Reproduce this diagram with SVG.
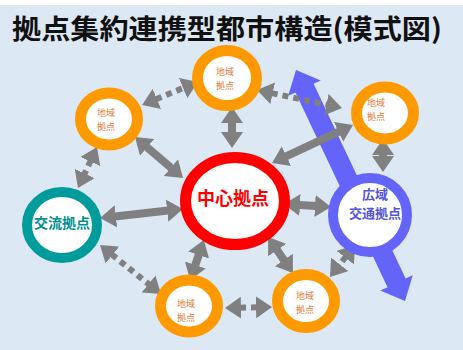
<svg xmlns="http://www.w3.org/2000/svg" width="463" height="350" viewBox="0 0 463 350">
<defs>
<style>
.bg{fill:#dde8f5}
.title{font-family:"Noto Sans CJK JP","Noto Sans CJK SC",sans-serif;font-weight:bold;font-size:27px;fill:#111}
.ring-o{fill:#fff;stroke:#ff9900;stroke-width:11}
.lbl-o{font-family:"Noto Sans CJK JP",sans-serif;font-size:9px;fill:#e07a35;text-anchor:middle}
.solid{stroke:#808080;stroke-width:8;fill:none;marker-start:url(#hd);marker-end:url(#hd)}
.dot{stroke:#808080;stroke-width:6;fill:none;stroke-dasharray:6 5;marker-start:url(#hd);marker-end:url(#hd)}
</style>
<marker id="hd" markerUnits="userSpaceOnUse" viewBox="0 -11 16 22" refX="1" refY="0" markerWidth="16" markerHeight="22" orient="auto-start-reverse">
<path d="M0,-11 L16,0 L0,11 Z" fill="#808080"/>
</marker>
</defs>
<rect class="bg" x="0" y="0" width="463" height="350"/>
<rect x="0" y="0" width="463" height="5" fill="#fff"/>
<text class="title" x="12" y="39" textLength="430" lengthAdjust="spacingAndGlyphs">拠点集約連携型都市構造(模式図)</text>

<g id="wide-area-corridor">
<polygon points="296,70 288.2,95.8 295.5,92.4 387.5,287.2 380.2,290.6 405,301 412.8,275.2 405.6,278.6 313.6,83.8 320.8,80.4" fill="#6464fa"/>
</g>

<g id="connectors">
<line class="dot" x1="156" y1="99.3" x2="184" y2="87.7"/>
<line class="dot" x1="90.7" y1="160.6" x2="84.3" y2="174.4"/>
<line class="solid" x1="146.4" y1="146.7" x2="171.6" y2="168.3"/>
<line class="solid" x1="232" y1="122" x2="232" y2="133"/>
<line class="dot" x1="271.7" y1="93.1" x2="327.3" y2="104.9"/>
<line class="solid" x1="339.4" y1="131.4" x2="285.6" y2="156.6"/>
<line class="solid" x1="383" y1="154" x2="383" y2="157"/>
<line class="solid" x1="299" y1="205" x2="316" y2="206"/>
<line class="solid" x1="114.9" y1="216.4" x2="168.1" y2="210.6"/>
<line class="dot" x1="111.7" y1="254.4" x2="149.3" y2="284.6"/>
<line class="solid" x1="199" y1="254.1" x2="195" y2="265.9"/>
<line class="solid" x1="276.6" y1="249.3" x2="284.4" y2="260.7"/>
<line class="dot" x1="240" y1="307.7" x2="257" y2="307.3"/>
<line class="dot" x1="345.8" y1="256.8" x2="339.2" y2="265.2"/>
</g>

<g id="node-top">
<ellipse class="ring-o" cx="227" cy="78" rx="29.5" ry="27.5"/>
<text class="lbl-o" x="225" y="75">地域</text>
<text class="lbl-o" x="225" y="88.5">拠点</text>
</g>
<g id="node-left">
<ellipse class="ring-o" cx="109" cy="119" rx="28.5" ry="26"/>
<text class="lbl-o" x="106" y="116">地域</text>
<text class="lbl-o" x="106" y="129.5">拠点</text>
</g>
<g id="node-topright">
<ellipse class="ring-o" cx="385" cy="113" rx="28.5" ry="26"/>
<text class="lbl-o" x="376" y="106">地域</text>
<text class="lbl-o" x="376" y="119.5">拠点</text>
</g>
<g id="node-bottomleft">
<ellipse class="ring-o" cx="189" cy="306" rx="28.5" ry="26"/>
<text class="lbl-o" x="186" y="307">地域</text>
<text class="lbl-o" x="186" y="320.5">拠点</text>
</g>
<g id="node-bottomright">
<ellipse class="ring-o" cx="306" cy="301" rx="28.5" ry="26.5"/>
<text class="lbl-o" x="305" y="299">地域</text>
<text class="lbl-o" x="305" y="312.5">拠点</text>
</g>
<g id="node-center">
<ellipse cx="235" cy="201" rx="49.5" ry="43.5" fill="#fff" stroke="#ff0000" stroke-width="11"/>
<text x="233" y="205" text-anchor="middle" font-family="Noto Sans CJK JP, sans-serif" font-weight="bold" font-size="18" fill="#ff0000">中心拠点</text>
</g>
<g id="node-exchange">
<ellipse cx="62" cy="225" rx="35" ry="33" fill="#fff" stroke="#009b9b" stroke-width="10"/>
<text x="62" y="228" text-anchor="middle" font-family="Noto Sans CJK JP, sans-serif" font-weight="bold" font-size="14" fill="#009090">交流拠点</text>
</g>
<g id="node-wide">
<ellipse cx="370" cy="215" rx="37" ry="37" fill="#fff" stroke="#6464fa" stroke-width="10"/>
<text x="375" y="199" text-anchor="middle" font-family="Noto Sans CJK JP, sans-serif" font-weight="bold" font-size="13" fill="#5454e0">広域</text>
<text x="375" y="218" text-anchor="middle" font-family="Noto Sans CJK JP, sans-serif" font-weight="bold" font-size="13" fill="#5454e0">交通拠点</text>
</g>
</svg>
